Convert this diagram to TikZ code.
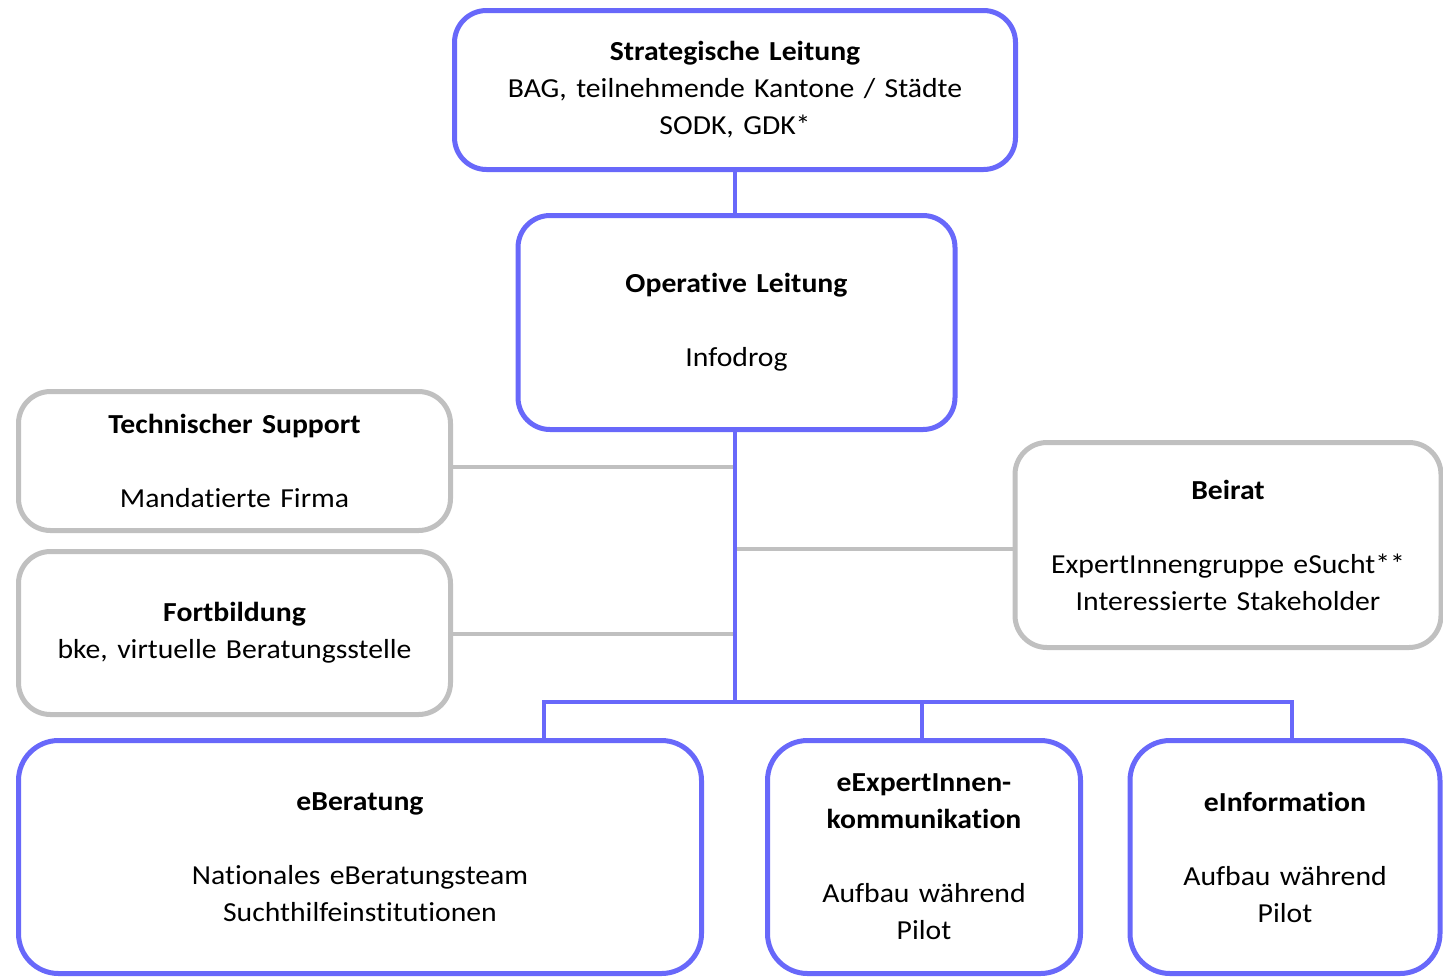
\documentclass[tikz,border=0pt]{standalone}
\usepackage{fontspec}
\setmainfont{Carlito}[FakeStretch=1.08, Ligatures={NoCommon}, WordSpace=1.4]
\definecolor{boxblue}{RGB}{104,104,250}
\definecolor{boxgray}{RGB}{192,192,192}
\tikzset{
  bluebox/.style={draw=boxblue, line width=5pt, rounded corners=32pt, fill=white,
    inner sep=0pt, outer sep=0pt, align=center, font=\fontsize{27.5}{37}\selectfont},
  graybox/.style={bluebox, draw=boxgray},
  blueline/.style={draw=boxblue, line width=4pt},
  grayline/.style={draw=boxgray, line width=4pt},
}
\begin{document}
\begin{tikzpicture}[x=1pt,y=-1pt]
\useasboundingbox (0,0) rectangle (1443,978);
% boxes
\node[bluebox, minimum width=561pt, minimum height=159pt] (strat) at (735,90)
  {\textbf{Strategische Leitung}\\BAG, teilnehmende Kantone / Städte\\SODK, GDK*};
\node[bluebox, minimum width=437pt, minimum height=214pt] (oper) at (736.5,322.5)
  {\textbf{Operative Leitung}\\[37pt]Infodrog};
\node[graybox, minimum width=432pt, minimum height=139pt] (tech) at (234.5,461)
  {\textbf{Technischer Support}\\[37pt]Mandatierte Firma};
\node[graybox, minimum width=432pt, minimum height=163pt] (fort) at (234.5,633)
  {\textbf{Fortbildung}\\bke, virtuelle Beratungsstelle};
\node[graybox, minimum width=426pt, minimum height=205pt] (beirat) at (1228,545)
  {\textbf{Beirat}\\[37pt]ExpertInnengruppe eSucht**\\Interessierte Stakeholder};
\node[bluebox, rounded corners=40pt, minimum width=683pt, minimum height=233pt] (ebera) at (360,857)
  {\textbf{eBeratung}\\[37pt]Nationales eBeratungsteam\\Suchthilfeinstitutionen};
\node[bluebox, rounded corners=40pt, minimum width=313pt, minimum height=233pt] (eexp) at (924,857)
  {\textbf{eExpertInnen-}\\\textbf{kommunikation}\\[37pt]Aufbau während\\Pilot};
\node[bluebox, rounded corners=40pt, minimum width=310pt, minimum height=233pt] (einfo) at (1285,857)
  {\textbf{eInformation}\\[37pt]Aufbau während\\Pilot};
% coordinates
\coordinate (hub) at (735,702);
\coordinate (busL) at (544,702);
\coordinate (busM) at (922,702);
\coordinate (busR) at (1292,702);
\coordinate (jt) at (735,467);
\coordinate (jf) at (735,634);
\coordinate (jb) at (735,549);
% gray connectors
\draw[grayline] (tech.east |- jt) -- (jt);
\draw[grayline] (fort.east |- jf) -- (jf);
\draw[grayline] (beirat.west |- jb) -- (jb);
% blue connectors
\draw[blueline] (strat.south) -- (strat.south |- oper.north);
\draw[blueline] (hub |- oper.south) -- (hub);
\draw[blueline, line join=miter] (ebera.north -| busL) -- (busL) -- (busR) -- (einfo.north -| busR);
\draw[blueline] (busM) -- (eexp.north -| busM);
\end{tikzpicture}
\end{document}
